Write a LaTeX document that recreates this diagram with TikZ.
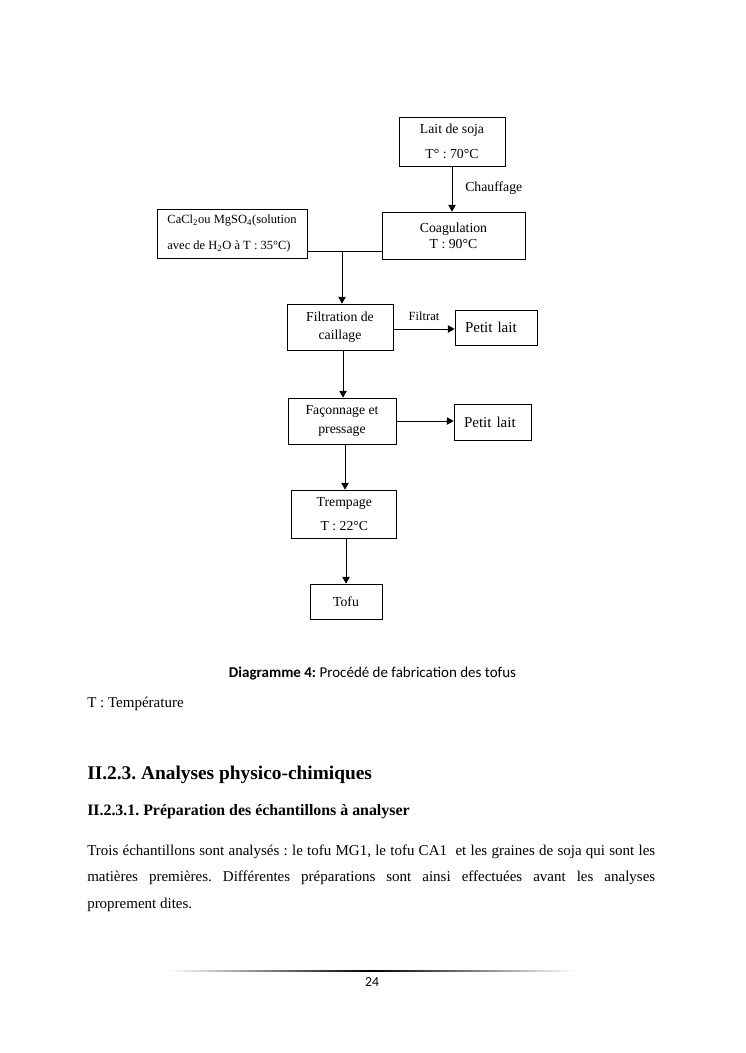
\documentclass[tikz,border=0pt]{standalone}
\usepackage{fontspec}
\setmainfont{Liberation Serif}
\newfontfamily\calibri{Carlito}
\usetikzlibrary{arrows.meta}
\newcommand\myfs[2]{\fontsize{#1}{#2}\selectfont}
\frenchspacing
\begin{document}
\begin{tikzpicture}[x=0.8pt,y=-0.8pt,
  box/.style={draw, line width=0.6pt, inner sep=0pt, align=center},
  arr/.style={-{Triangle[length=5.5pt,width=6pt]}, line width=0.6pt},
  ln/.style={line width=0.6pt},
  lbl/.style={inner sep=0pt}]
\useasboundingbox[fill=white] (0,0) rectangle (745,1053);

% boxes
\node[box, minimum width=84.8pt, minimum height=39.2pt, font=\myfs{11pt}{20pt}] (lait) at (452,141.5) {Lait de soja\\T° : 70°C};
\node[box, minimum width=114.4pt, minimum height=37.6pt, font=\myfs{11pt}{12.8pt}] (coag) at (453.5,235.5) {Coagulation\\T : 90°C};
\node[box, align=left, minimum width=120pt, minimum height=39.2pt, font=\myfs{10pt}{20.8pt}] (cacl) at (232,233.5) {CaCl\textsubscript{2}ou MgSO\textsubscript{4}(solution\\avec de H\textsubscript{2}O à T : 35°C)};
\node[box, minimum width=84.8pt, minimum height=36.8pt, font=\myfs{11pt}{14.4pt}] (filt) at (340,327) {Filtration de\\caillage};
\node[box, align=left, inner xsep=8pt, text width=49.6pt, minimum height=28pt, font=\myfs{12pt}{14pt}] (pl1) at (496,327.5) {Petit lait};
\node[box, minimum width=86.4pt, minimum height=36.8pt, font=\myfs{11pt}{15.2pt}] (fac) at (342,421) {Façonnage et\\pressage};
\node[box, align=left, inner xsep=8pt, text width=45.6pt, minimum height=28.8pt, font=\myfs{12pt}{14pt}] (pl2) at (492.5,422) {Petit lait};
\node[box, minimum width=84pt, minimum height=38.4pt, font=\myfs{11pt}{19.2pt}] (tremp) at (344.3,514) {Trempage\\T : 22°C};
\node[box, minimum width=57.6pt, minimum height=28pt, font=\myfs{11pt}{13pt}] (tofu) at (346,601.5) {Tofu};

% connectors
\draw[arr] (lait.south) -- (lait.south |- coag.north);
\node[lbl, anchor=west, font=\myfs{11pt}{13pt}] (chauf) at (465,188) {Chauffage};
\coordinate (j) at (342,251);
\draw[ln] (cacl.east |- j) -- (coag.west |- j);
\draw[arr] (j) -- (j |- filt.north);
\draw[arr] ([yshift=-1.6pt]filt.east) -- ([yshift=-1.6pt]filt.east -| pl1.west);
\node[lbl, font=\myfs{10pt}{12pt}] (filtrat) at (424,316) {Filtrat};
\draw[arr] ([xshift=2.4pt]filt.south) -- ([xshift=2.4pt]filt.south |- fac.north);
\draw[arr] (fac.east) -- (fac.east -| pl2.west);
\draw[arr] ([xshift=2.4pt]fac.south) -- ([xshift=2.4pt]fac.south |- tremp.north);
\draw[arr] ([xshift=1.4pt]tremp.south) -- ([xshift=1.4pt]tremp.south |- tofu.north);

% texts
\node[lbl, anchor=base, font=\calibri\myfs{12pt}{14pt}] (cap) at (372.5,677) {\textbf{Diagramme 4:} Procédé de fabrication des tofus};
\node[lbl, anchor=base west, font=\myfs{12pt}{14pt}] (leg) at (87,707) {T : Température};
\node[lbl, anchor=base west, font=\bfseries\myfs{15.5pt}{18pt}] (h1) at (87,779) {II.2.3. Analyses physico-chimiques};
\node[lbl, anchor=base west, font=\bfseries\myfs{12.7pt}{15pt}] (h2) at (87,815) {II.2.3.1. Préparation des échantillons à analyser};
\node[lbl, anchor=base west, font=\myfs{12pt}{14pt}] (p1) at (87,855) {\makebox[454.4pt][s]{Trois échantillons sont analysés : le tofu MG1, le tofu CA1\ \ et les graines de soja qui sont les}};
\node[lbl, anchor=base west, font=\myfs{12pt}{14pt}] (p2) at (87,881.5) {\makebox[454.4pt][s]{matières premières. Différentes préparations sont ainsi effectuées avant les analyses}};
\node[lbl, anchor=base west, font=\myfs{12pt}{14pt}] (p3) at (87,908) {proprement dites.};

% footer
\shade[left color=white, right color=white, middle color=black] (168,970.4) rectangle (575,971.6);
\node[lbl, anchor=base, font=\calibri\myfs{11pt}{13pt}] (page) at (372,986) {24};
\end{tikzpicture}
\end{document}
